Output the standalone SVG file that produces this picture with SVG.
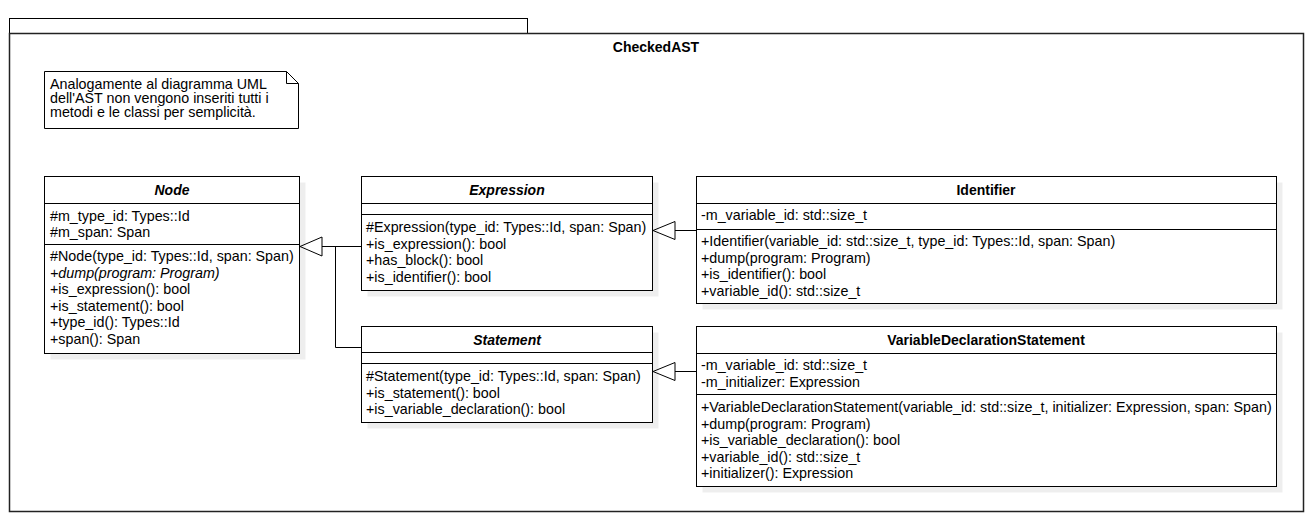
<svg xmlns="http://www.w3.org/2000/svg" width="1314" height="524" viewBox="0 0 1314 524">
<style>
.bx{fill:#fff;stroke:#000;stroke-width:1}
.sh{fill:#000;fill-opacity:0.065;stroke:none}
.ln{stroke:#000;stroke-width:1;fill:none}
.t{font-family:"Liberation Sans",Arial,sans-serif;font-size:14.3px;fill:#000}
.ti{font-family:"Liberation Sans",Arial,sans-serif;font-size:14px;font-weight:bold;text-anchor:middle;fill:#000}
.it{font-style:italic}
.con{stroke:#000;stroke-width:1;fill:none}
.tri{stroke:#000;stroke-width:1;fill:#fff}
</style>
<rect width="1314" height="524" fill="#fff"/>
<g id="package-CheckedAST">
<rect class="bx" x="9.5" y="18.5" width="518" height="15"/>
<rect class="bx" x="9.5" y="33.5" width="1294" height="478" style="stroke:#222;stroke-width:1.5"/>
<text class="ti" x="656" y="52">CheckedAST</text>
</g>
<g id="note">
<path class="bx" d="M44.5,71.5 H286.5 L298.5,83.5 V128.5 H44.5 Z"/>
<path class="ln" d="M286.5,71.5 V83.5 H298.5"/>
<text class="t" x="50" y="89">Analogamente al diagramma UML</text>
<text class="t" x="50" y="103">dell'AST non vengono inseriti tutti i</text>
<text class="t" x="50" y="117">metodi e le classi per semplicità.</text>
</g>
<g id="connectors">
<polyline class="con" points="361,246.5 322,246.5"/>
<polyline class="con" points="361,347.5 335.5,347.5 335.5,246.5 322,246.5"/>
<polygon class="tri" points="300,246.5 322,237 322,256"/>
<polyline class="con" points="696,230.5 675,230.5"/>
<polygon class="tri" points="653,230.5 675,221.5 675,239.5"/>
<polyline class="con" points="696,371.5 675,371.5"/>
<polygon class="tri" points="653,371.5 675,362.5 675,380.5"/>
</g>
<g id="Node">
<rect class="sh" x="50.5" y="182.5" width="255" height="177"/>
<rect class="bx" x="44.5" y="176.5" width="255" height="177"/>
<line class="ln" x1="44.5" y1="203.5" x2="299.5" y2="203.5"/>
<line class="ln" x1="44.5" y1="244.5" x2="299.5" y2="244.5"/>
<text class="ti it" x="172" y="195">Node</text>
<text class="t" x="50" y="220.5">#m_type_id: Types::Id</text>
<text class="t" x="50" y="237">#m_span: Span</text>
<text class="t" x="50" y="261">#Node(type_id: Types::Id, span: Span)</text>
<text class="t it" x="50" y="277.6">+dump(program: Program)</text>
<text class="t" x="50" y="294.2">+is_expression(): bool</text>
<text class="t" x="50" y="310.8">+is_statement(): bool</text>
<text class="t" x="50" y="327.4">+type_id(): Types::Id</text>
<text class="t" x="50" y="344">+span(): Span</text>
</g>
<g id="Expression">
<rect class="sh" x="367.5" y="182.5" width="291" height="114"/>
<rect class="bx" x="361.5" y="176.5" width="291" height="114"/>
<line class="ln" x1="361.5" y1="203.5" x2="652.5" y2="203.5"/>
<line class="ln" x1="361.5" y1="214.5" x2="652.5" y2="214.5"/>
<text class="ti it" x="507" y="195">Expression</text>
<text class="t" x="366" y="232">#Expression(type_id: Types::Id, span: Span)</text>
<text class="t" x="366" y="248.6">+is_expression(): bool</text>
<text class="t" x="366" y="265.2">+has_block(): bool</text>
<text class="t" x="366" y="281.8">+is_identifier(): bool</text>
</g>
<g id="Statement">
<rect class="sh" x="367.5" y="332.5" width="291" height="96"/>
<rect class="bx" x="361.5" y="326.5" width="291" height="96"/>
<line class="ln" x1="361.5" y1="352.5" x2="652.5" y2="352.5"/>
<line class="ln" x1="361.5" y1="363.5" x2="652.5" y2="363.5"/>
<text class="ti it" x="507" y="345">Statement</text>
<text class="t" x="366" y="381">#Statement(type_id: Types::Id, span: Span)</text>
<text class="t" x="366" y="397.6">+is_statement(): bool</text>
<text class="t" x="366" y="414.2">+is_variable_declaration(): bool</text>
</g>
<g id="Identifier">
<rect class="sh" x="702.5" y="182.5" width="580" height="127"/>
<rect class="bx" x="696.5" y="176.5" width="580" height="127"/>
<line class="ln" x1="696.5" y1="203.5" x2="1276.5" y2="203.5"/>
<line class="ln" x1="696.5" y1="229.5" x2="1276.5" y2="229.5"/>
<text class="ti" x="986" y="195">Identifier</text>
<text class="t" x="701" y="220">-m_variable_id: std::size_t</text>
<text class="t" x="701" y="246">+Identifier(variable_id: std::size_t, type_id: Types::Id, span: Span)</text>
<text class="t" x="701" y="262.6">+dump(program: Program)</text>
<text class="t" x="701" y="279.2">+is_identifier(): bool</text>
<text class="t" x="701" y="295.8">+variable_id(): std::size_t</text>
</g>
<g id="VariableDeclarationStatement">
<rect class="sh" x="702.5" y="332.5" width="580" height="160"/>
<rect class="bx" x="696.5" y="326.5" width="580" height="160"/>
<line class="ln" x1="696.5" y1="353.5" x2="1276.5" y2="353.5"/>
<line class="ln" x1="696.5" y1="394.5" x2="1276.5" y2="394.5"/>
<text class="ti" x="986" y="345">VariableDeclarationStatement</text>
<text class="t" x="701" y="370">-m_variable_id: std::size_t</text>
<text class="t" x="701" y="386.6">-m_initializer: Expression</text>
<text class="t" x="701" y="412">+VariableDeclarationStatement(variable_id: std::size_t, initializer: Expression, span: Span)</text>
<text class="t" x="701" y="428.6">+dump(program: Program)</text>
<text class="t" x="701" y="445.2">+is_variable_declaration(): bool</text>
<text class="t" x="701" y="461.8">+variable_id(): std::size_t</text>
<text class="t" x="701" y="478.4">+initializer(): Expression</text>
</g>
</svg>
